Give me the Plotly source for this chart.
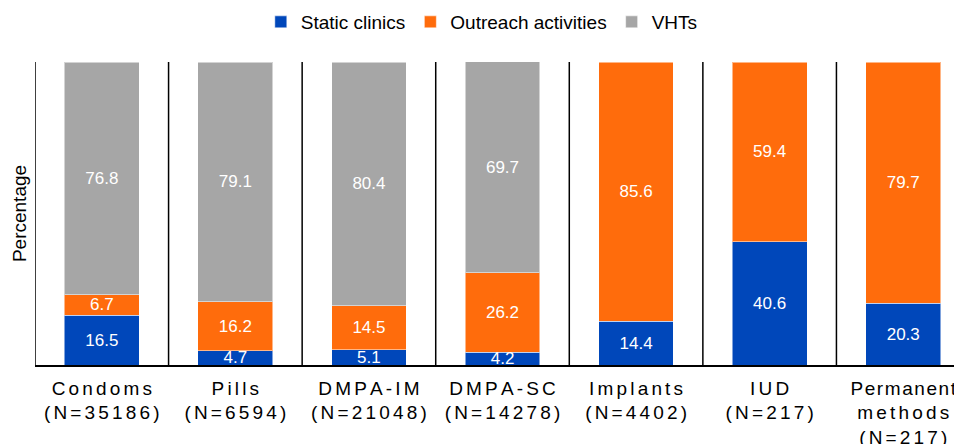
import plotly.graph_objects as go

categories = ["Condoms<br>(N=35186)", "Pills<br>(N=6594)", "DMPA-IM<br>(N=21048)",
              "DMPA-SC<br>(N=14278)", "Implants<br>(N=4402)", "IUD<br>(N=217)",
              "Permanent<br>methods<br>(N=217)"]
static_clinics = [16.5, 4.7, 5.1, 4.2, 14.4, 40.6, 20.3]
outreach = [6.7, 16.2, 14.5, 26.2, 85.6, 59.4, 79.7]
vhts = [76.8, 79.1, 80.4, 69.7, None, None, None]

SP = "\u2006"      # letter spacing used in tick labels
SP_TIGHT = "\u200a"  # tighter spacing for long words

def spaced(label):
    out = []
    for line in label.split("<br>"):
        sep = SP_TIGHT if len(line) >= 9 and not line.startswith("(") else SP
        out.append(sep.join(list(line)))
    return "<br>".join(out)

tick_labels = [spaced(c) for c in categories]
xpos = list(range(len(categories)))

FONT = "Arial, Liberation Sans, sans-serif"
colors = {"Static clinics": "#0047BA", "Outreach activities": "#FF6C0C", "VHTs": "#A6A6A6"}

fig = go.Figure()
for name, vals in [("Static clinics", static_clinics), ("Outreach activities", outreach), ("VHTs", vhts)]:
    fig.add_trace(go.Bar(
        x=xpos, y=vals, name=name,
        marker=dict(color=colors[name], line=dict(color="rgba(255,255,255,0.5)", width=1)),
        text=[("" if v is None else f"{v:.1f}") for v in vals],
        textposition="inside", insidetextanchor="middle",
        textfont=dict(color="white", size=17, family=FONT),
        width=0.56, cliponaxis=True,
    ))

shapes = []
for i in range(len(categories)):
    shapes.append(dict(type="line", xref="x", yref="y", x0=i - 0.5, x1=i - 0.5, y0=0, y1=100,
                       line=dict(color="black", width=1.5)))

fig.update_layout(
    barmode="stack",
    width=954, height=436,
    margin=dict(l=27, r=0, t=54, b=79, autoexpand=False),
    paper_bgcolor="white", plot_bgcolor="white",
    font=dict(family=FONT, color="black"),
    uniformtext=dict(minsize=17, mode="show"),
    shapes=shapes,
    showlegend=True,
    legend=dict(orientation="h", x=0.482, xanchor="center", y=1.132, yanchor="middle",
                font=dict(size=19, family=FONT), traceorder="normal", itemwidth=30),
    xaxis=dict(tickmode="array", tickvals=xpos, ticktext=tick_labels, range=[-0.5, 6.44],
               showline=True, linecolor="black", linewidth=1.5, ticks="", showgrid=False,
               zeroline=False, tickfont=dict(size=19, family=FONT), ticklabelstandoff=5,
               automargin=False, ticklabeloverflow="allow"),
    yaxis=dict(range=[0, 100], showticklabels=False, showgrid=False, zeroline=False,
               showline=False, ticks="", automargin=False,
               title=dict(text="Percentage", font=dict(size=19, family=FONT), standoff=2)),
)

fig.write_html("out.html")
